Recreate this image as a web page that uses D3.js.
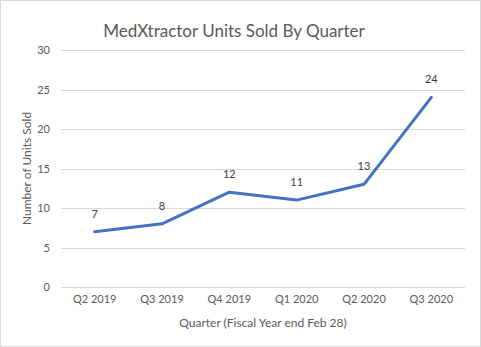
<!DOCTYPE html>
<html>
<head>
<meta charset="utf-8">
<script src="https://cdn.jsdelivr.net/npm/d3@7"></script>
<style>
  html, body { margin: 0; padding: 0; background: #fff; }
  svg { display: block; }
</style>
</head>
<body>
<svg id="chart" width="481" height="347"></svg>
<script>
const quarters = ["Q2 2019", "Q3 2019", "Q4 2019", "Q1 2020", "Q2 2020", "Q3 2020"];
const unitsSold = [7, 8, 12, 11, 13, 24];
const yTicks = [0, 5, 10, 15, 20, 25, 30];

const W = 481, H = 347;
const margin = { left: 61, right: 16, top: 50, bottom: 60 };
const font = "Lato, 'Open Sans', sans-serif";
const svg = d3.select("#chart");

// outer frame
svg.append("rect")
  .attr("x", 0.5).attr("y", 0.5)
  .attr("width", W - 1).attr("height", H - 1)
  .attr("fill", "#fff").attr("stroke", "#d9d9d9");

const x = d3.scaleBand().domain(quarters).range([margin.left, W - margin.right]);
const y = d3.scaleLinear().domain([0, 30]).range([H - margin.bottom, margin.top]);

// gridlines
svg.append("g").selectAll("line").data(yTicks).join("line")
  .attr("x1", margin.left).attr("x2", W - margin.right)
  .attr("y1", d => Math.round(y(d)) + 0.5).attr("y2", d => Math.round(y(d)) + 0.5)
  .attr("stroke", "#d9d9d9").attr("stroke-width", 1);

// y axis labels
const yAxis = d3.axisLeft(y).tickValues(yTicks).tickSize(0).tickPadding(11);
const gy = svg.append("g").attr("transform", `translate(${margin.left},0)`).call(yAxis);
gy.select(".domain").remove();
gy.selectAll("text").attr("font-family", font).attr("font-size", 11).attr("fill", "#595959");

// x axis labels
const xAxis = d3.axisBottom(x).tickSize(0).tickPadding(8);
const gx = svg.append("g").attr("transform", `translate(0,${H - margin.bottom})`).call(xAxis);
gx.select(".domain").remove();
gx.selectAll("text").attr("font-family", font).attr("font-size", 11).attr("fill", "#595959");

// line
const line = d3.line()
  .x((d, i) => x(quarters[i]) + x.bandwidth() / 2)
  .y(d => y(d));
svg.append("path").datum(unitsSold)
  .attr("d", line)
  .attr("fill", "none")
  .attr("stroke", "#4472c4")
  .attr("stroke-width", 3)
  .attr("stroke-linejoin", "round")
  .attr("stroke-linecap", "round");

// data labels
svg.append("g").selectAll("text").data(unitsSold).join("text")
  .attr("x", (d, i) => x(quarters[i]) + x.bandwidth() / 2)
  .attr("y", d => y(d) - 14)
  .attr("text-anchor", "middle")
  .attr("font-family", font).attr("font-size", 11).attr("fill", "#404040")
  .text(d => d);

// title
svg.append("text")
  .attr("x", 234).attr("y", 37)
  .attr("text-anchor", "middle")
  .attr("font-family", font).attr("font-size", 17).attr("fill", "#595959")
  .text("MedXtractor Units Sold By Quarter");

// axis titles
svg.append("text")
  .attr("x", (margin.left + W - margin.right) / 2).attr("y", 327)
  .attr("text-anchor", "middle")
  .attr("font-family", font).attr("font-size", 12).attr("fill", "#595959")
  .text("Quarter (Fiscal Year end Feb 28)");

svg.append("text")
  .attr("transform", `translate(31,${(margin.top + H - margin.bottom) / 2}) rotate(-90)`)
  .attr("text-anchor", "middle")
  .attr("font-family", font).attr("font-size", 12).attr("fill", "#595959")
  .text("Number of Units Sold");
</script>
</body>
</html>
